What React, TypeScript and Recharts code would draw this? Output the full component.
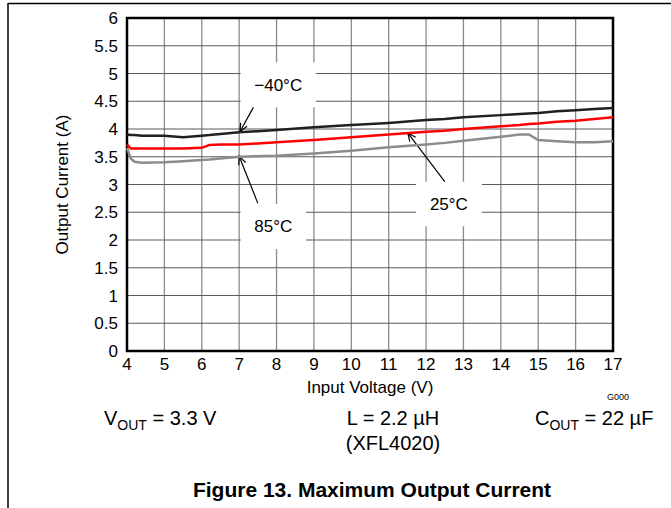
import {
  CartesianGrid,
  Line,
  LineChart,
  ReferenceArea,
  ReferenceLine,
  XAxis,
  YAxis,
} from "recharts";

// input voltage (V)
const vin = [4, 4.1, 4.2, 4.4, 5, 5.5, 6, 6.2, 6.5, 7, 8, 9, 10, 11, 12, 12.5, 13, 14, 14.5, 14.75, 15, 15.5, 16, 16.5, 17];
// max output current (A)
const tMinus40 = [3.9, 3.89, 3.89, 3.88, 3.88, 3.85, 3.88, 3.89, 3.91, 3.94, 3.98, 4.03, 4.07, 4.11, 4.16, 4.18, 4.21, 4.25, 4.27, 4.28, 4.29, 4.32, 4.34, 4.36, 4.38];
const t25 = [3.72, 3.65, 3.65, 3.65, 3.65, 3.65, 3.66, 3.71, 3.72, 3.72, 3.76, 3.8, 3.85, 3.9, 3.95, 3.97, 4.0, 4.05, 4.07, 4.09, 4.1, 4.13, 4.15, 4.18, 4.21];
const t85 = [3.66, 3.47, 3.41, 3.39, 3.4, 3.42, 3.44, 3.45, 3.47, 3.5, 3.52, 3.56, 3.61, 3.67, 3.72, 3.75, 3.79, 3.86, 3.9, 3.9, 3.8, 3.78, 3.76, 3.76, 3.78];

const xTicks = [4, 5, 6, 7, 8, 9, 10, 11, 12, 13, 14, 15, 16, 17];
const yTicks = [0, 0.5, 1, 1.5, 2, 2.5, 3, 3.5, 4, 4.5, 5, 5.5, 6];

const data = vin.map((v, i) => ({ v, a: tMinus40[i], b: t25[i], c: t85[i] }));

const FONT = "'Liberation Sans', Arial, sans-serif";

function Arrow(p: any) {
  const { x1, y1, x2, y2 } = p;
  const ang = Math.atan2(y2 - y1, x2 - x1);
  const len = 9;
  const w = 0.42;
  const ax = x2 - len * Math.cos(ang - w);
  const ay = y2 - len * Math.sin(ang - w);
  const bx = x2 - len * Math.cos(ang + w);
  const by = y2 - len * Math.sin(ang + w);
  return (
    <g>
      <line x1={x1} y1={y1} x2={x2} y2={y2} stroke="#000" strokeWidth={1.2} />
      <polyline points={`${ax},${ay} ${x2},${y2} ${bx},${by}`} fill="none" stroke="#000" strokeWidth={1.2} />
    </g>
  );
}

const labelStyle = { fontSize: 17, fill: "#000" };

export default function App() {
  return (
    <div style={{ position: "absolute", left: 0, top: 0, width: 671, height: 508, background: "#fff", fontFamily: FONT }}>
      <LineChart width={671} height={508} data={data} margin={{ top: 18, right: 58, left: 0, bottom: 83 }}>
        <CartesianGrid horizontal={false} stroke="#8a8a8a" strokeWidth={1.3} />
        <CartesianGrid vertical={false} stroke="#5a5a5a" strokeWidth={1.1} />
        <XAxis
          dataKey="v"
          type="number"
          domain={[4, 17]}
          ticks={xTicks}
          interval={0}
          height={74}
          tickSize={0}
          tickMargin={7}
          axisLine={false}
          tick={{ fontSize: 17, fill: "#000" }}
          label={{ value: "Input Voltage (V)", position: "center", dy: -1, fontSize: 17, fill: "#000" }}
        />
        <YAxis
          type="number"
          domain={[0, 6]}
          ticks={yTicks}
          interval={0}
          width={127}
          tickSize={0}
          tickMargin={9}
          axisLine={false}
          tick={{ fontSize: 17, fill: "#000" }}
          label={{ value: "Output Current (A)", angle: -90, position: "center", dx: -2, fontSize: 17, fill: "#000" }}
        />
        <ReferenceArea x1={7.04} x2={9.05} y1={4.39} y2={5.2} fill="#fff" fillOpacity={1} stroke="none" label={{ value: "−40°C", position: "center", ...labelStyle }} />
        <ReferenceArea x1={11.73} x2={13.49} y1={2.25} y2={3.05} fill="#fff" fillOpacity={1} stroke="none" label={{ value: "25°C", position: "center", ...labelStyle }} />
        <ReferenceArea x1={7.04} x2={8.79} y1={1.84} y2={2.65} fill="#fff" fillOpacity={1} stroke="none" label={{ value: "85°C", position: "center", ...labelStyle }} />
        <ReferenceLine segment={[{ x: 7.38, y: 4.39 }, { x: 7.02, y: 3.95 }]} shape={Arrow} />
        <ReferenceLine segment={[{ x: 12.5, y: 3.05 }, { x: 11.51, y: 3.93 }]} shape={Arrow} />
        <ReferenceLine segment={[{ x: 7.5, y: 2.66 }, { x: 7.0, y: 3.51 }]} shape={Arrow} />
        <ReferenceArea x1={4} x2={17} y1={0} y2={6} fill="none" stroke="#000" strokeWidth={2.5} />
        <Line dataKey="c" stroke="#8c8c8c" strokeWidth={2.5} dot={false} isAnimationActive={false} />
        <Line dataKey="b" stroke="#ff0000" strokeWidth={2.5} dot={false} isAnimationActive={false} />
        <Line dataKey="a" stroke="#231f20" strokeWidth={2.5} dot={false} isAnimationActive={false} />
      </LineChart>
      <svg width={671} height={508} style={{ position: "absolute", left: 0, top: 0, pointerEvents: "none" }}>
        <line x1={8} y1={3.5} x2={671} y2={3.5} stroke="#000" strokeWidth={1.5} />
        <line x1={8} y1={3} x2={8} y2={508} stroke="#000" strokeWidth={1.5} />
        <text x={618} y={400} fontSize={9} textAnchor="middle" fill="#000">G000</text>
        <text x={104} y={425} fontSize={20} fill="#000">
          V<tspan fontSize={14} dy={5}>OUT</tspan>
          <tspan dy={-5}> = 3.3 V</tspan>
        </text>
        <text x={393} y={425} fontSize={20} textAnchor="middle" fill="#000">L = 2.2 µH</text>
        <text x={393} y={450} fontSize={20} textAnchor="middle" fill="#000">(XFL4020)</text>
        <text x={535} y={425} fontSize={20} fill="#000">
          C<tspan fontSize={14} dy={5}>OUT</tspan>
          <tspan dy={-5}> = 22 µF</tspan>
        </text>
        <text x={372} y={497} fontSize={21} fontWeight="bold" textAnchor="middle" fill="#000">
          Figure 13. Maximum Output Current
        </text>
      </svg>
    </div>
  );
}
